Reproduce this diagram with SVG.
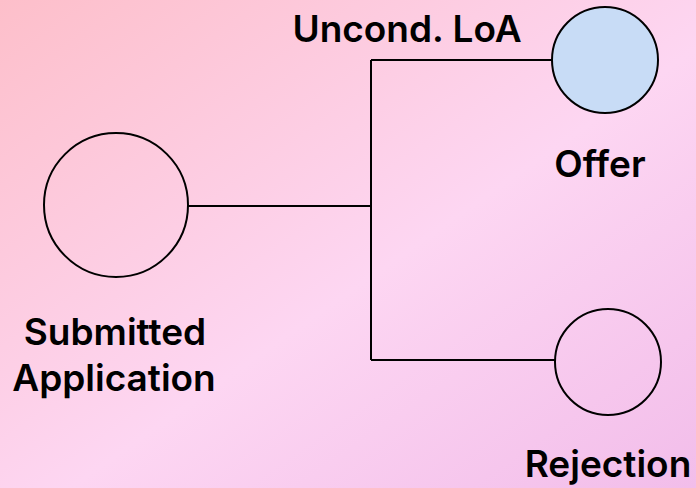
<svg xmlns="http://www.w3.org/2000/svg" width="696" height="488" viewBox="0 0 696 488">
<defs>
<linearGradient id="bg" x1="0" y1="0" x2="1" y2="1">
<stop offset="0" stop-color="#fdbfca"/>
<stop offset="0.55" stop-color="#fdd6f2"/>
<stop offset="1" stop-color="#f2bdea"/>
</linearGradient>
<style>
.node{stroke:#000;stroke-width:2;fill:none}
.lbl{font-family:Inter,"Liberation Sans",sans-serif;font-weight:600;font-size:37px;fill:#000;text-anchor:middle}
.edge{stroke:#000;stroke-width:2;fill:none}
</style>
</defs>
<rect width="696" height="488" fill="url(#bg)"/>
<g id="connectors">
<path class="edge" d="M188,206 H371"/>
<path class="edge" d="M371,60 V360"/>
<path class="edge" d="M371,60 H552"/>
<path class="edge" d="M371,360 H555"/>
</g>
<text class="lbl" x="407" y="42">Uncond. LoA</text>
<g id="submitted">
<circle class="node" cx="116" cy="205" r="72"/>
<text class="lbl" x="115" y="345">Submitted</text>
<text class="lbl" x="114" y="391">Application</text>
</g>
<g id="offer">
<circle class="node" cx="605" cy="60" r="53" style="fill:#c8dcf6"/>
<text class="lbl" x="600" y="177">Offer</text>
</g>
<g id="rejection">
<circle class="node" cx="608" cy="362" r="53"/>
<text class="lbl" x="608" y="477">Rejection</text>
</g>
</svg>
